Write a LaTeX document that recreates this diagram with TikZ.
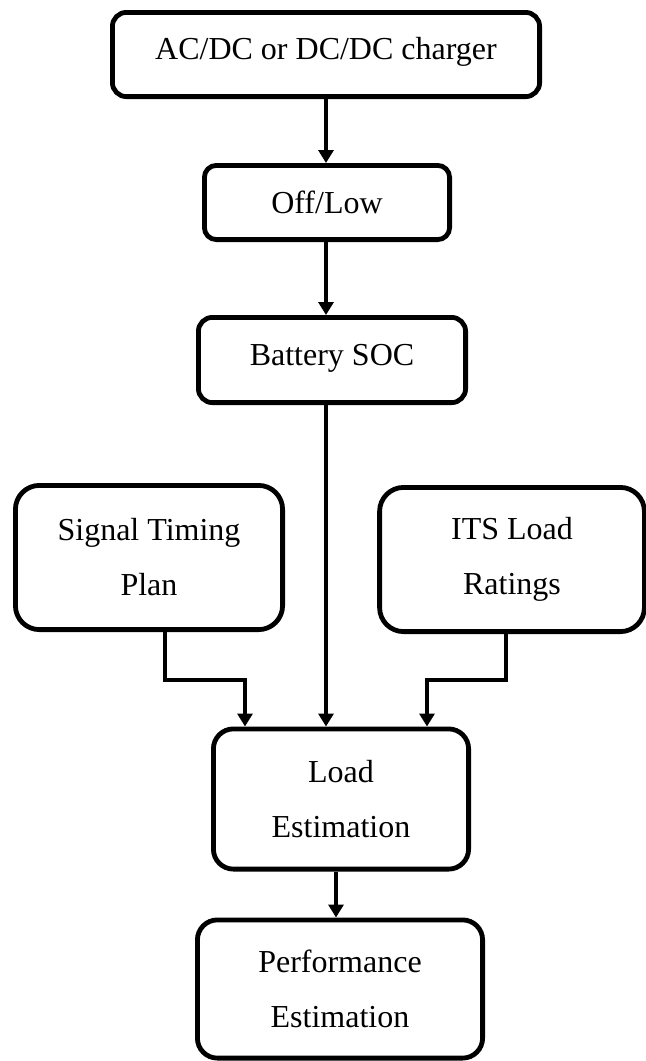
\documentclass[tikz,border=0pt]{standalone}
\usepackage{fontspec}
\setmainfont{Liberation Serif}
\usetikzlibrary{arrows.meta,positioning}

\begin{document}
\begin{tikzpicture}[>={Triangle[width=7.5pt,length=6.5pt]},
 font=\fontsize{16}{27.5}\selectfont,
 box/.style={draw,line width=2.4pt,rounded corners=#1,align=center,inner sep=0pt},
 box/.default=7pt,
 arr/.style={->,line width=2pt}]
\useasboundingbox (0,0) rectangle (323pt,-530.5pt);
\node[box,minimum width=213.6pt,minimum height=42.1pt,text depth=6.5pt] (charger) at (163pt,-27.25pt) {AC/DC or DC/DC charger};
\node[box=6pt,minimum width=122.6pt,minimum height=37.1pt] (offlow) at (163.5pt,-101.25pt) {Off/Low};
\node[box,minimum width=133.6pt,minimum height=42.6pt,text depth=5pt] (battery) at (166pt,-180pt) {Battery SOC};
\node[box=12pt,minimum width=133.6pt,minimum height=72.1pt] (signal) at (74.5pt,-278.75pt) {Signal Timing\\Plan};
\node[box=12pt,minimum width=132.4pt,minimum height=72.1pt] (its) at (256pt,-279.75pt) {ITS Load\\Ratings};
\node[box=10pt,minimum width=127.6pt,minimum height=70.1pt] (load) at (170.5pt,-399.5pt) {Load\\Estimation};
\node[box=10pt,minimum width=142.6pt,minimum height=69.1pt] (perf) at (170pt,-494.5pt) {Performance\\Estimation};
\draw[arr] (charger.south) -- (charger.south|-offlow.north);
\draw[arr] (charger.south|-offlow.south) -- (charger.south|-battery.north);
\draw[arr] (charger.south|-battery.south) -- (charger.south|-load.north);
\draw[arr] ([xshift=8pt]signal.south) -- ++(0,-24pt) -| ([xshift=17pt]load.north west);
\draw[arr] ([xshift=-3pt]its.south) -- ++(0,-23pt) -| ([xshift=-22pt]load.north east);
\draw[arr] ([xshift=-2.5pt]load.south) -- ([xshift=-2.5pt]load.south|-perf.north);
\end{tikzpicture}
\end{document}
